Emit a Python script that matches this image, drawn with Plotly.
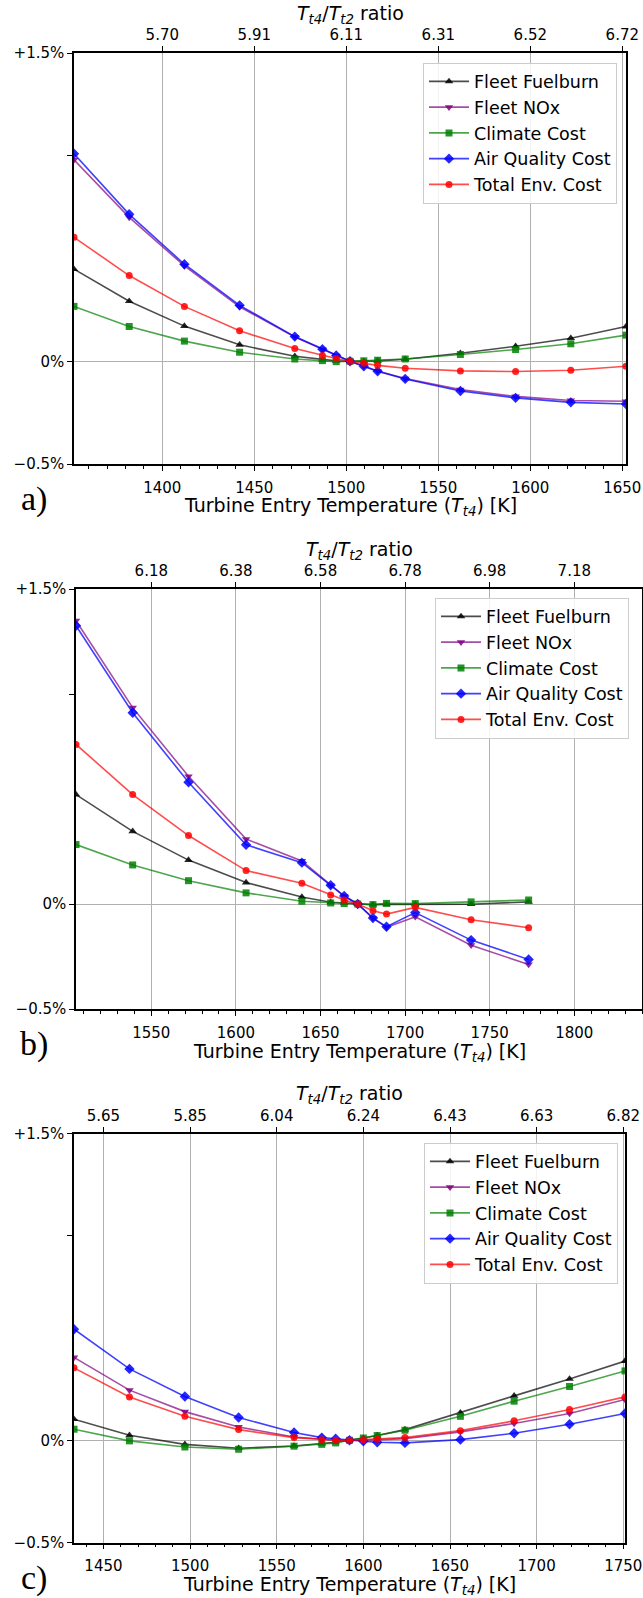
import plotly.graph_objects as go

# ---------------- data ----------------
series_names = ["Fleet Fuelburn", "Fleet NOx", "Climate Cost", "Air Quality Cost", "Total Env. Cost"]

# Panel a
T_a = [1352, 1382, 1412, 1442, 1472, 1487, 1494.5, 1502, 1509.5, 1517, 1532, 1562, 1592, 1622, 1652]
fuel_a = [0.448, 0.292, 0.171, 0.080, 0.024, 0.007, 0.002, 0.0, 0.0, 0.002, 0.010, 0.039, 0.073, 0.112, 0.169]
nox_a = [0.98, 0.70, 0.464, 0.265, 0.118, 0.058, 0.027, 0.0, -0.024, -0.048, -0.084, -0.138, -0.171, -0.191, -0.195]
clim_a = [0.267, 0.169, 0.098, 0.044, 0.011, 0.003, -0.002, 0.0, 0.002, 0.005, 0.011, 0.033, 0.057, 0.085, 0.127]
aq_a = [1.01, 0.715, 0.472, 0.272, 0.120, 0.059, 0.028, 0.0, -0.024, -0.049, -0.086, -0.145, -0.178, -0.200, -0.208]
tot_a = [0.603, 0.417, 0.267, 0.148, 0.062, 0.028, 0.013, 0.0, -0.010, -0.020, -0.034, -0.047, -0.050, -0.044, -0.024]
xticks_a = [1400, 1450, 1500, 1550, 1600, 1650]
ratio_a = ["5.70", "5.91", "6.11", "6.31", "6.52", "6.72"]
xrange_a = [1352, 1652]

# Panel b
T_b = [1505.5, 1539, 1572, 1606, 1639, 1656, 1664, 1672, 1681, 1689, 1706, 1739, 1773]
fuel_b = [0.521, 0.346, 0.209, 0.102, 0.033, 0.008, 0.005, 0.0, -0.003, -0.002, -0.002, -0.001, 0.010]
nox_b = [1.349, 0.935, 0.608, 0.309, 0.205, 0.089, 0.038, 0.0, -0.067, -0.111, -0.061, -0.196, -0.288]
clim_b = [0.283, 0.186, 0.111, 0.053, 0.013, 0.005, 0.002, 0.0, -0.003, 0.003, 0.002, 0.010, 0.019]
aq_b = [1.325, 0.911, 0.580, 0.282, 0.197, 0.089, 0.038, 0.0, -0.067, -0.108, -0.041, -0.172, -0.264]
tot_b = [0.760, 0.521, 0.326, 0.159, 0.099, 0.043, 0.019, 0.0, -0.032, -0.048, -0.016, -0.075, -0.113]
xticks_b = [1550, 1600, 1650, 1700, 1750, 1800]
ratio_b = ["6.18", "6.38", "6.58", "6.78", "6.98", "7.18"]
xrange_b = [1505.5, 1840]

# Panel c
T_c = [1433, 1465, 1497, 1528, 1560, 1576, 1584, 1592, 1600, 1608, 1624, 1656, 1687, 1719, 1751]
fuel_c = [0.103, 0.024, -0.020, -0.039, -0.028, -0.016, -0.010, 0.0, 0.010, 0.023, 0.052, 0.134, 0.217, 0.300, 0.387]
nox_c = [0.405, 0.245, 0.140, 0.065, 0.016, 0.003, 0.0, 0.0, 0.0, 0.002, 0.008, 0.041, 0.082, 0.131, 0.199]
clim_c = [0.054, -0.003, -0.033, -0.044, -0.029, -0.020, -0.013, 0.0, 0.011, 0.023, 0.049, 0.117, 0.191, 0.263, 0.339]
aq_c = [0.543, 0.349, 0.214, 0.111, 0.038, 0.013, 0.007, 0.0, -0.005, -0.010, -0.013, 0.003, 0.034, 0.078, 0.131]
tot_c = [0.354, 0.212, 0.117, 0.052, 0.013, 0.003, 0.0, 0.0, 0.003, 0.005, 0.013, 0.047, 0.095, 0.150, 0.212]
xticks_c = [1450, 1500, 1550, 1600, 1650, 1700, 1750]
ratio_c = ["5.65", "5.85", "6.04", "6.24", "6.43", "6.63", "6.82"]
xrange_c = [1433, 1751]

ytick_vals = [-0.5, 0, 1.0, 1.5]
ytick_text = ["\u22120.5%", "0%", "", "+1.5%"]
panel_labels = ["a)", "b)", "c)"]

# ---------------- styling ----------------
W, H = 643, 1598
line_cols = ["rgba(0,0,0,0.7)", "rgba(128,0,128,0.7)", "rgba(0,128,0,0.7)",
             "rgba(0,0,255,0.75)", "rgba(255,0,0,0.7)"]
mark_cols = ["rgba(0,0,0,0.85)", "rgba(128,0,128,0.85)", "rgba(0,128,0,0.85)",
             "rgba(0,0,255,0.85)", "rgba(255,0,0,0.85)"]
symbols = ["triangle-up", "triangle-down", "square", "diamond", "circle"]
msizes = [7.5, 7.5, 7, 8, 7]
FONT = "DejaVu Sans"
TICK_SIZE = 15
TITLE_SIZE = 19
LEGEND_SIZE = 17.5

# pixel geometry of each panel: left, right, top, bottom
boxes = [(74, 626, 53, 464), (76, 642, 589, 1009), (74, 625, 1133.5, 1542.5)]
legend_pos = [(423, 62.5), (435, 597.5), (424, 1142.5)]

panels = [
    (T_a, [fuel_a, nox_a, clim_a, aq_a, tot_a], xticks_a, ratio_a, xrange_a),
    (T_b, [fuel_b, nox_b, clim_b, aq_b, tot_b], xticks_b, ratio_b, xrange_b),
    (T_c, [fuel_c, nox_c, clim_c, aq_c, tot_c], xticks_c, ratio_c, xrange_c),
]

fig = go.Figure()
layout = dict(
    width=W, height=H, margin=dict(l=0, r=0, t=0, b=0, pad=0, autoexpand=False),
    paper_bgcolor="white", plot_bgcolor="white",
    font=dict(family=FONT, size=TICK_SIZE, color="black"),
    annotations=[],
)

def px_x(p):
    return p / W

def px_y(p):
    return 1 - p / H

for i, (T, ys, xt, rt, xr) in enumerate(panels):
    n = i + 1
    xa = "x" if n == 1 else f"x{n}"
    ya = "y" if n == 1 else f"y{n}"
    top_n = n + 3
    leg = "legend" if n == 1 else f"legend{n}"
    for k, (name, yv) in enumerate(zip(series_names, ys)):
        fig.add_trace(go.Scatter(
            x=T, y=yv, name=name, mode="lines+markers",
            xaxis=xa, yaxis=ya, legend=leg,
            line=dict(color=line_cols[k], width=1.6),
            marker=dict(symbol=symbols[k], size=msizes[k], color=mark_cols[k],
                        line=dict(width=0)),
        ))
    # invisible trace for top axis
    fig.add_trace(go.Scatter(
        x=[xr[0], xr[1]], y=[0, 0], mode="markers", marker=dict(opacity=0),
        xaxis=f"x{top_n}", yaxis=ya, showlegend=False, hoverinfo="skip"))

    l, r, t, b = boxes[i]
    xdom = [px_x(l), px_x(r)]
    ydom = [px_y(b), px_y(t)]
    xkey = "xaxis" if n == 1 else f"xaxis{n}"
    ykey = "yaxis" if n == 1 else f"yaxis{n}"
    layout[xkey] = dict(
        domain=xdom, anchor=ya, range=xr, automargin=False,
        tickmode="array", tickvals=xt, ticklabelstandoff=4,
        ticklabeloverflow="allow",
        ticks="outside", ticklen=5, tickwidth=1, tickcolor="black",
        showline=True, linecolor="black", linewidth=1.5, mirror=True,
        showgrid=True, gridcolor="#b0b0b0", gridwidth=1, zeroline=False,
        tickfont=dict(family=FONT, size=TICK_SIZE),
        minor=dict(tickmode="linear", tick0=1300, dtick=10, ticks="outside",
                   ticklen=3, tickcolor="black", tickwidth=1, showgrid=False),
    )
    layout[ykey] = dict(
        domain=ydom, anchor=xa, range=[-0.5, 1.5], automargin=False,
        tickmode="array", tickvals=ytick_vals, ticktext=ytick_text,
        ticklabeloverflow="allow",
        ticks="outside", ticklen=5, tickwidth=1, tickcolor="black",
        showline=True, linecolor="black", linewidth=1.5, mirror=True,
        showgrid=False, zeroline=True, zerolinecolor="#b0b0b0", zerolinewidth=1,
        tickfont=dict(family=FONT, size=TICK_SIZE),
    )
    layout[f"xaxis{top_n}"] = dict(
        overlaying=xa, anchor=ya, side="top", range=xr, automargin=False,
        tickmode="array", tickvals=xt, ticktext=rt, ticklabeloverflow="allow",
        ticks="outside", ticklen=5, tickwidth=1, tickcolor="black",
        showline=True, linecolor="black", linewidth=1.5,
        showgrid=False, zeroline=False,
        tickfont=dict(family=FONT, size=TICK_SIZE),
    )
    lx, ly = legend_pos[i]
    layout[leg] = dict(
        x=px_x(lx), y=px_y(ly), xanchor="left", yanchor="top",
        bgcolor="rgba(255,255,255,0.85)", bordercolor="#cccccc", borderwidth=1,
        font=dict(family=FONT, size=LEGEND_SIZE, color="black"),
        itemwidth=40, tracegroupgap=0,
    )
    cx = px_x((l + r) / 2)
    layout["annotations"] += [
        dict(text="<i>T<sub>t4</sub></i>/<i>T<sub>t2</sub></i> ratio",
             x=cx, y=px_y(t - 39), xref="paper", yref="paper",
             xanchor="center", yanchor="middle", showarrow=False,
             font=dict(family=FONT, size=TITLE_SIZE)),
        dict(text="Turbine Entry Temperature (<i>T<sub>t4</sub></i>) [K]",
             x=cx, y=px_y(b + 43), xref="paper", yref="paper",
             xanchor="center", yanchor="middle", showarrow=False,
             font=dict(family=FONT, size=TITLE_SIZE)),
        dict(text=panel_labels[i],
             x=px_x(34), y=px_y(b + 35), xref="paper", yref="paper",
             xanchor="center", yanchor="middle", showarrow=False,
             font=dict(family="Liberation Serif", size=34)),
    ]

fig.update_layout(**layout)
fig.write_html("out.html")
